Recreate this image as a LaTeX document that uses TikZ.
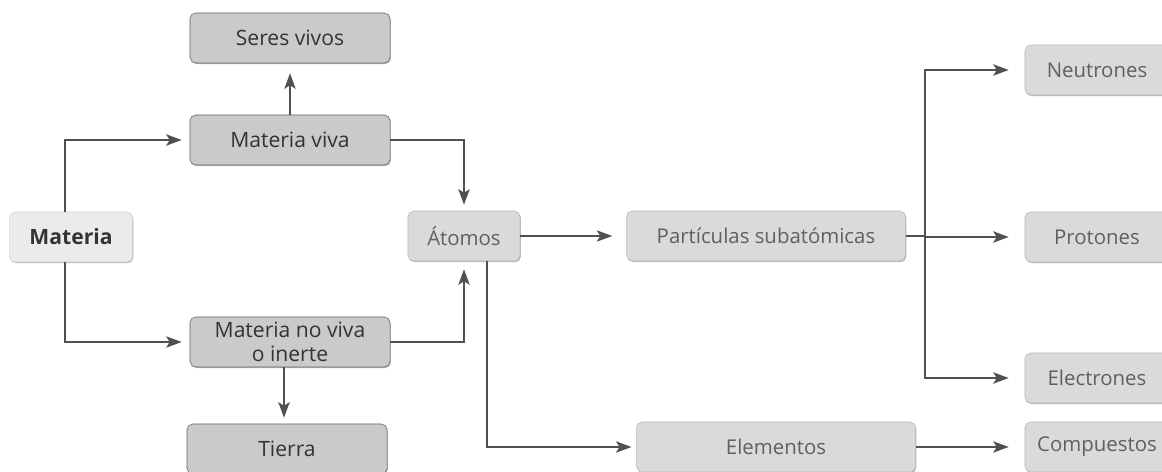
\documentclass[tikz,border=0pt]{standalone}
\usepackage{fontspec}
\setmainfont{Open Sans}
\usetikzlibrary{arrows.meta,shadows}
\definecolor{lineagris}{HTML}{505050}
\definecolor{cajaoscura}{HTML}{CACACA}
\definecolor{cajaclara}{HTML}{DADADA}
\definecolor{cajamateria}{HTML}{EBEBEB}
\definecolor{textooscuro}{HTML}{333333}
\definecolor{textoclaro}{HTML}{606060}
\begin{document}
\begin{tikzpicture}[x=0.025cm,y=-0.025cm,
  caja/.style={rounded corners=4pt,minimum height=1.25cm,align=center,
    font=\fontsize{14.5}{17.5}\selectfont,
    drop shadow={shadow xshift=0.6pt,shadow yshift=-0.8pt,fill=gray!70,opacity=0.8}},
  oscura/.style={caja,fill=cajaoscura,draw=gray!80!black,text=textooscuro,minimum width=5cm,
    font=\fontsize{15}{17.5}\selectfont},
  clara/.style={caja,fill=cajaclara,draw=gray!55,text=textoclaro},
  flecha/.style={draw=lineagris,line width=1.4pt,-{Stealth[length=11pt,width=8pt,inset=2.5pt]},shorten >=0.2cm}]
\useasboundingbox (0,0) rectangle (1162,472);
\clip (0,0) rectangle (1162,472);
\fill[white] (0,0) rectangle (1162,472);
\node[caja,fill=cajamateria,draw=gray!35,text=textooscuro,minimum width=3.07cm,font=\fontsize{15}{17.5}\selectfont\bfseries] (mat) at (71,237) {Materia};
\node[oscura] (seres) at (290,38) {Seres vivos};
\node[oscura] (viva) at (290,140) {Materia viva};
\node[oscura] (noviva) at (290,342) {Materia no viva\\o inerte};
\node[oscura] (tierra) at (287,449) {Tierra};
\node[clara,minimum width=2.8cm] (atom) at (464,236) {Átomos};
\node[clara,minimum width=6.97cm] (part) at (766,236) {Partículas subatómicas};
\node[clara,minimum width=6.97cm] (elem) at (776,447) {Elementos};
\node[clara,minimum width=3.6cm] (neut) at (1097,70) {Neutrones};
\node[clara,minimum width=3.6cm] (prot) at (1097,237) {Protones};
\node[clara,minimum width=3.6cm] (elec) at (1097,378) {Electrones};
\node[clara,minimum width=3.6cm] (comp) at (1097,447) {Compuestos};
\draw[flecha] ([xshift=-0.15cm]mat.north) |- (viva.west);
\draw[flecha] ([xshift=-0.15cm]mat.south) |- (noviva.west);
\draw[flecha,shorten >=0.25cm] (viva.north) -- (seres.south);
\draw[flecha,shorten >=0.15cm] ([xshift=-0.15cm]noviva.south) -- ([xshift=-0.15cm]noviva.south |- tierra.north);
\draw[flecha,shorten >=0.15cm] (viva.east) -| (atom.north);
\draw[flecha,shorten >=0.2cm] (noviva.east) -| (atom.south);
\draw[flecha,shorten >=0.35cm] (atom.east) -- (part.west);
\draw[flecha,shorten >=0.12cm] ([xshift=0.575cm]atom.south) |- (elem.west);
\draw[draw=lineagris,line width=1.4pt] (part.east) -- ++(19,0) coordinate (rama);
\draw[flecha,shorten >=0.4cm] (rama) |- (neut.west);
\draw[flecha,shorten >=0.4cm] (rama) |- (prot.west);
\draw[flecha,shorten >=0.4cm] (rama) |- (elec.west);
\draw[flecha,shorten >=0.4cm] (elem.east) -- (comp.west);
\end{tikzpicture}
\end{document}
